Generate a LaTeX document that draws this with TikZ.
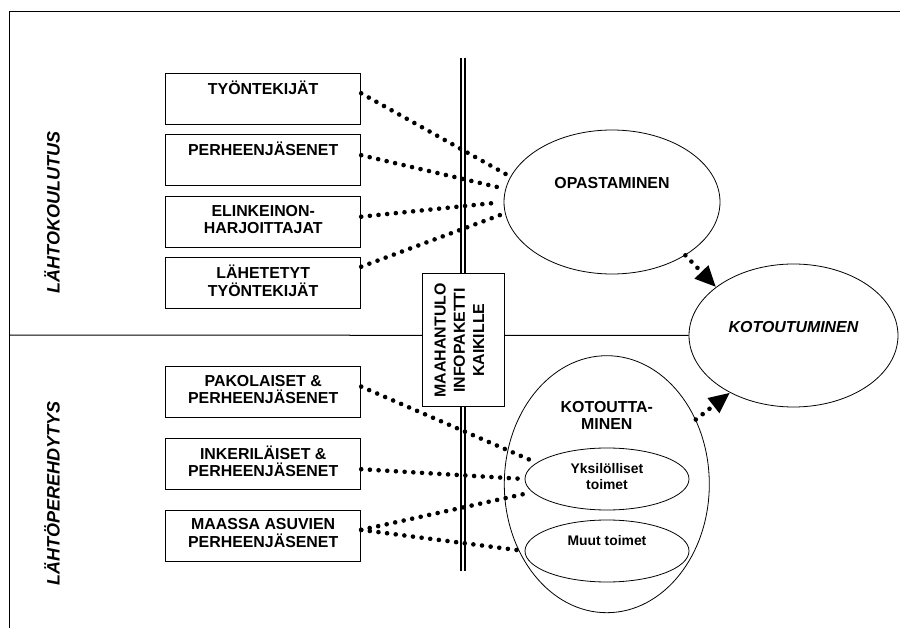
\documentclass[tikz,border=0pt]{standalone}
\usepackage{fontspec}
\setmainfont{Liberation Sans}
\usetikzlibrary{shapes,arrows.meta,positioning,calc}

\begin{document}
\begin{tikzpicture}[x=1pt, y=-1pt, node distance=10pt,
    group/.style={rectangle, draw, line width=1pt, minimum width=195pt, minimum height=51pt, align=center, inner sep=2pt, text depth=5pt, font=\fontsize{15.9}{17.6}\selectfont\bfseries},
    phase/.style={ellipse, draw, line width=0.8pt, inner sep=0pt},
    txt/.style={align=center, inner sep=0pt, font=\fontsize{15.9}{17.6}\selectfont\bfseries},
    small/.style={align=center, inner sep=0pt, font=\fontsize{13.9}{15.5}\selectfont\bfseries},
    side/.style={rotate=90, inner sep=0pt, font=\fontsize{18}{20}\selectfont\bfseries\itshape},
    link/.style={line width=4.6pt, line cap=round, dash pattern=on 0pt off 8.7pt},
    arrow/.style={link, -{Triangle[length=21pt, width=18pt]}}]

    \useasboundingbox (0,0) rectangle (900,628);
    \draw[line width=1.2pt] (9.3,628) |- (900,11.3);

    \node[side] (lahtok) at (52,212.5) {LÄHTOKOULUTUS};
    \node[side] (lahtop) at (52,493.3) {LÄHTÖPEREHDYTYS};

    \node[group] (tyon) at (263.2,98.7) {TYÖNTEKIJÄT\\~};
    \node[group, below=9.5pt of tyon] (perhe) {PERHEENJÄSENET\\~};
    \node[group, below=9.8pt of perhe] (elink) {ELINKEINON-\\HARJOITTAJAT};
    \node[group, below=9.3pt of elink] (lahet) {LÄHETETYT\\TYÖNTEKIJÄT};
    \node[group, below=56.6pt of lahet] (pakol) {PAKOLAISET \&\\PERHEENJÄSENET};
    \node[group, below=19.7pt of pakol] (inker) {INKERILÄISET \&\\PERHEENJÄSENET};
    \node[group, below=20pt of inker] (maassa) {MAASSA ASUVIEN\\PERHEENJÄSENET};

    \node[phase, minimum width=216pt, minimum height=144pt] (opast) at (612,202) {};
    \node[txt] (opasttxt) at ([yshift=19.3pt]opast.center) {OPASTAMINEN};
    \node[phase, minimum width=209pt, minimum height=143pt] (kotout) at (793.5,335.5) {};
    \node[txt, font=\fontsize{15.9}{17.6}\selectfont\bfseries\itshape] (kotouttxt) at ([yshift=8pt]kotout.center) {KOTOUTUMINEN};
    \node[phase, minimum width=205pt, minimum height=257pt] (kotta) at (606.8,484.2) {};
    \node[txt] (kottatxt) at ([yshift=68.7pt]kotta.center) {KOTOUTTA-\\MINEN};
    \node[phase, minimum width=164pt, minimum height=62pt] (yks) at (607,479) {};
    \node[small] (ykstxt) at ([yshift=2.4pt]yks.center) {Yksilölliset\\toimet};
    \node[phase, minimum width=164pt, minimum height=62pt] (muut) at (607,551) {};
    \node[small] (muuttxt) at ([yshift=10pt]muut.center) {Muut toimet};

    \coordinate (bartop) at (463.3,58);
    \coordinate (barbot) at (463.3,571);
    \draw[double, line width=2.2pt, double distance=1.8pt] (bartop) -- (barbot);
    \coordinate (divl) at (9.3,335);
    \draw[line width=1pt] (divl) -- (kotout.west);
    \node[txt, draw, line width=1pt, fill=white, rotate=90, minimum width=133pt, minimum height=82pt, text depth=8pt, font=\fontsize{15.9}{19.2}\selectfont\bfseries] (info) at (463.3,340.3) {MAAHANTULO\\INFOPAKETTI\\KAIKILLE};

    \draw[link, shorten >=4pt] ([yshift=5.4pt]tyon.east) -- (opast.166);
    \draw[link, shorten >=4pt] ([yshift=5pt]perhe.east) -- (opast.173);
    \draw[link, shorten >=4pt] ([yshift=5.3pt]elink.east) -- (opast.180);
    \draw[link, shorten >=4pt] ([yshift=16.6pt]lahet.east) -- (opast.186);
    \draw[link, shorten >=4pt] ([yshift=5.3pt]pakol.east) -- (yks.167);
    \draw[link, shorten >=4pt] ([yshift=-5.6pt]inker.east) -- (yks.west);
    \draw[link, shorten >=4pt] ([yshift=5.7pt]maassa.east) -- (yks.190);
    \draw[link, shorten >=4pt] ([yshift=5.7pt]maassa.east) -- (muut.west);
    \draw[arrow] (opast.-36) -- (kotout.148);
    \draw[arrow] (kotta.36) -- (kotout.-138);

\end{tikzpicture}
\end{document}
